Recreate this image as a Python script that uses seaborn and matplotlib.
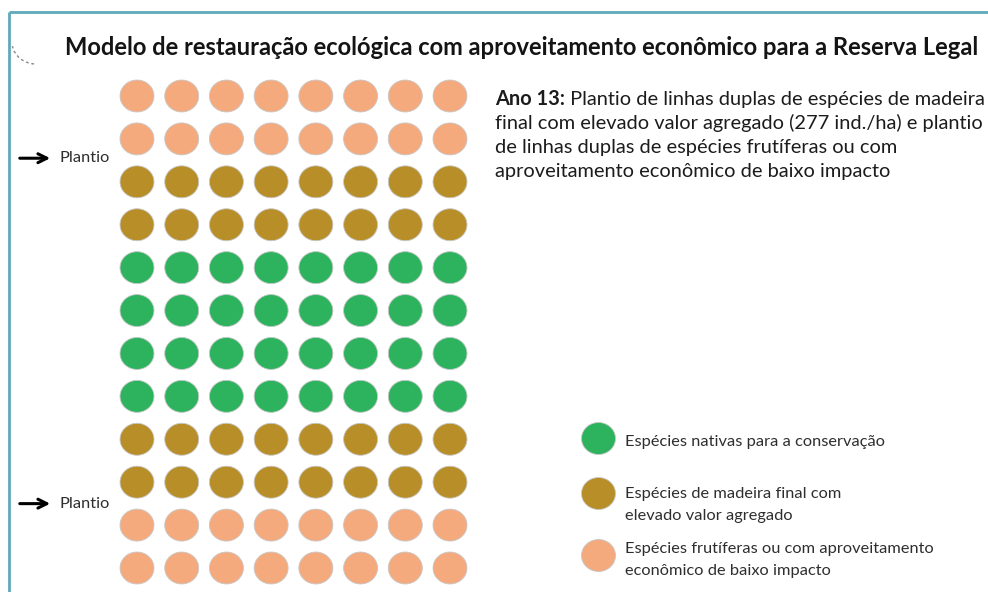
import numpy as np
import pandas as pd
import matplotlib
matplotlib.use("Agg")
import matplotlib.pyplot as plt
import matplotlib.transforms as mtransforms
from matplotlib.path import Path
from matplotlib.patches import Arc
import seaborn as sns

sns.set_theme(style="white")
plt.rcParams['font.family'] = ['Lato', 'DejaVu Sans']

# ---------------- data ----------------
title = "Modelo de restauração ecológica com aproveitamento econômico para a Reserva Legal"
row_types = ["frutifera", "frutifera", "madeira", "madeira",
             "nativa", "nativa", "nativa", "nativa",
             "madeira", "madeira", "frutifera", "frutifera"]
n_cols = 8
type_order = ["nativa", "madeira", "frutifera"]
type_colors = ["#2DB35E", "#B88E29", "#F5AA7E"]
legend_labels = ["Espécies nativas para a conservação",
                 "Espécies de madeira final com\nelevado valor agregado",
                 "Espécies frutíferas ou com aproveitamento\neconômico de baixo impacto"]
plantio_rows = [1.45, 9.5]
plantio_label = "Plantio"
desc_bold = "Ano 13:"
desc_lines = [" Plantio de linhas duplas de espécies de madeira",
              "final com elevado valor agregado (277 ind./ha) e plantio",
              "de linhas duplas de espécies frutíferas ou com",
              "aproveitamento econômico de baixo impacto"]

cells = pd.DataFrame([(c, r, t) for r, t in enumerate(row_types) for c in range(n_cols)],
                     columns=["col", "row", "tipo"])

# ---------------- figure ----------------
W, H = 988, 592
fig = plt.figure(figsize=(W / 100, H / 100), dpi=100)
fig.patch.set_facecolor("white")

ax_bg = fig.add_axes([0, 0, 1, 1])
ax_bg.set_xlim(0, W)
ax_bg.set_ylim(H, 0)
ax_bg.axis("off")

# grid axes: col 0 -> x 137, col 7 -> x 450 ; row 0 -> y 96, row 11 -> y 568
dx = (450 - 137) / 7
dy = (568 - 96) / 11
left = 137 - dx / 2
top = 96 - dy / 2
ax = fig.add_axes([left / W, (H - (top + 12 * dy)) / H, 8 * dx / W, 12 * dy / H])
ax.set_xlim(-0.5, n_cols - 0.5)
ax.set_ylim(len(row_types) - 0.5, -0.5)
ax.axis("off")
ax.patch.set_alpha(0)

# ellipse marker (slightly wider than tall)
theta = np.linspace(0, 2 * np.pi, 80)
ell = Path(np.column_stack([0.5 * np.cos(theta), 0.47 * np.sin(theta)]))
msize = (34 * 0.72) ** 2

sns.scatterplot(data=cells, x="col", y="row", hue="tipo", hue_order=type_order,
                palette=type_colors, marker=ell, s=msize, edgecolor="#c8c8c8",
                linewidth=0.6, legend=False, ax=ax, zorder=3)

renderer = fig.canvas.get_renderer()


def fit(txt, width):
    fig.canvas.draw()
    bb = txt.get_window_extent(renderer)
    txt.set_fontsize(txt.get_fontsize() * width / bb.width)
    return txt


# title
t = ax_bg.text(65, 55, title, fontsize=18, fontweight="bold", color="#141414",
               ha="left", va="baseline")
fit(t, 918)

# description block
baselines = [105, 129, 153, 177]
fs_desc = 14
b = ax_bg.text(495, baselines[0], desc_bold, fontsize=fs_desc, fontweight="bold",
               color="#1c1c1c", ha="left", va="baseline")
r0 = ax_bg.text(540, baselines[0], desc_lines[0], fontsize=fs_desc, color="#1c1c1c",
                ha="left", va="baseline")
fig.canvas.draw()
w_total = b.get_window_extent(renderer).width + r0.get_window_extent(renderer).width
scale = 490 / w_total
fs_desc *= scale
b.set_fontsize(fs_desc)
r0.set_fontsize(fs_desc)
fig.canvas.draw()
r0.set_x(495 + b.get_window_extent(renderer).width)
for yb, line in zip(baselines[1:], desc_lines[1:]):
    ax_bg.text(495, yb, line, fontsize=fs_desc, color="#1c1c1c", ha="left", va="baseline")

# legend (manual layout)
leg_marker_y = [438, 493, 555]
leg_text_base = [[446], [498, 520], [553, 575]]
t_ref = ax_bg.text(625, 0, legend_labels[2].split("\n")[0], fontsize=11, alpha=0)
fit(t_ref, 308)
fs_leg = t_ref.get_fontsize()
for col, lab, my, bases in zip(type_colors, legend_labels, leg_marker_y, leg_text_base):
    ax_bg.scatter([598], [my], marker=ell, s=msize, color=col, edgecolor="#c8c8c8",
                  linewidth=0.6, zorder=3)
    for yb, ln in zip(bases, lab.split("\n")):
        ax_bg.text(625, yb, ln, fontsize=fs_leg, color="#2e2e2e", ha="left", va="baseline")

# Plantio arrows
blend = mtransforms.blended_transform_factory(ax_bg.transData, ax.transData)
for r in plantio_rows:
    ax.annotate("", xy=(53, r), xytext=(17, r), xycoords=blend, textcoords=blend,
                arrowprops=dict(arrowstyle="->", color="black", lw=2.2,
                                mutation_scale=16), annotation_clip=False)
    ax.text(59, r, plantio_label, transform=blend, fontsize=fs_leg, color="#2e2e2e",
            ha="left", va="center", clip_on=False)

# frame
frame_col = "#5FA9B9"
ax_bg.plot([9, W], [12, 12], color=frame_col, lw=2, solid_capstyle="butt")
ax_bg.plot([9, 9], [12, H], color=frame_col, lw=2, solid_capstyle="butt")
ax_bg.add_patch(Arc((36, 42), 48, 44, theta1=95, theta2=170, color="#888888",
                    lw=1, linestyle=(0, (2, 2))))

fig.savefig("out.png", dpi=100, facecolor="white")
